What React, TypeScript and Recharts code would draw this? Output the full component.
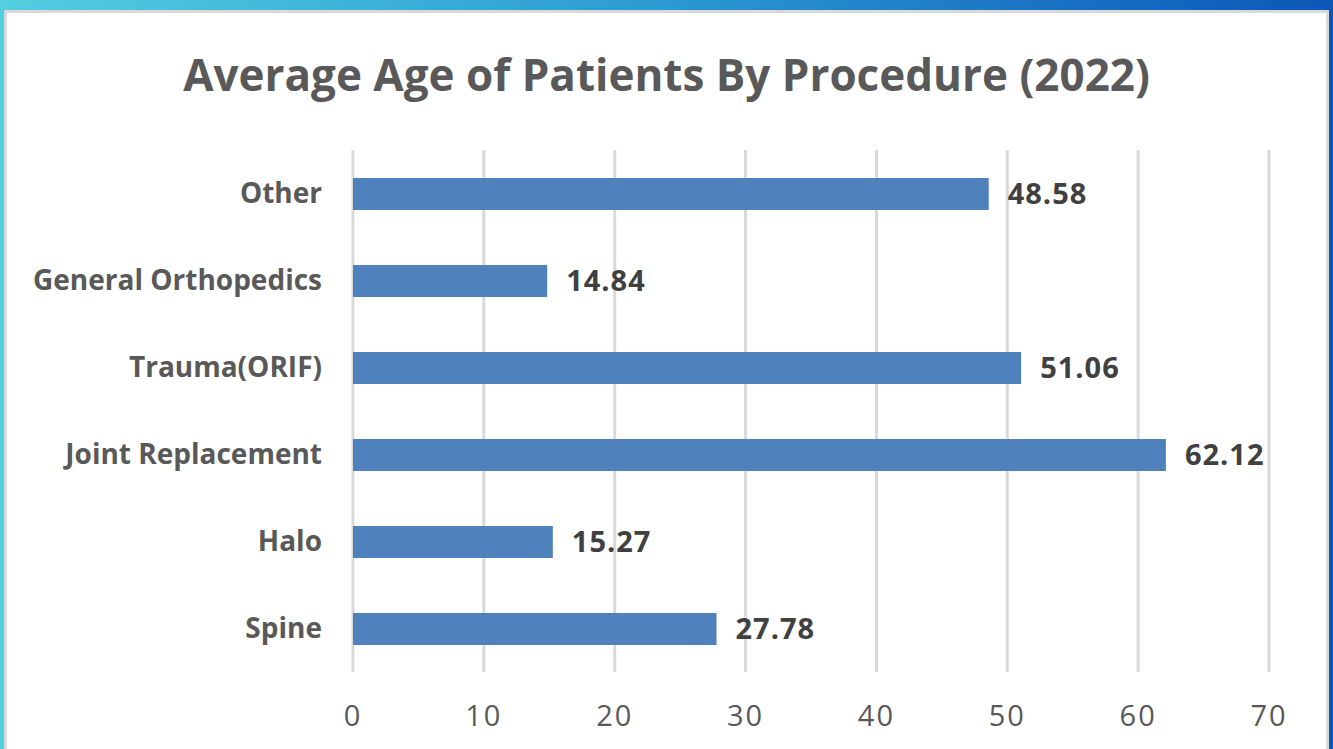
import React from 'react';
import { BarChart, Bar, XAxis, YAxis, CartesianGrid, LabelList } from 'recharts';

const procedures = ['Other', 'General Orthopedics', 'Trauma(ORIF)', 'Joint Replacement', 'Halo', 'Spine'];
const avgAges = [48.58, 14.84, 51.06, 62.12, 15.27, 27.78];
const ageTicks = [0, 10, 20, 30, 40, 50, 60, 70];

const data = procedures.map((name, i) => ({ name, age: avgAges[i] }));

const FONT = '"Open Sans", Lato, sans-serif';

export default function App() {
  return (
    <div
      style={{
        position: 'fixed',
        left: 0,
        top: 0,
        width: 1333,
        height: 749,
        overflow: 'hidden',
        background: 'linear-gradient(to right, #52cfe0 0%, #2f9fd4 45%, #0b57b8 100%)',
        fontFamily: FONT,
      }}
    >
      <div
        style={{
          position: 'absolute',
          left: 4,
          top: 10,
          width: 1319,
          height: 760,
          background: '#fff',
          border: '3px solid #d9d9d9',
        }}
      />
      <div
        style={{
          position: 'absolute',
          left: 0,
          top: 44,
          width: 1333,
          textAlign: 'center',
          fontSize: 44,
          fontWeight: 700,
          color: '#595959',
          lineHeight: '60px',
        }}
      >
        Average Age of Patients By Procedure (2022)
      </div>
      <div style={{ position: 'absolute', left: 0, top: 0 }}>
        <BarChart
          width={1333}
          height={749}
          data={data}
          layout="vertical"
          margin={{ top: 150, right: 64, bottom: 0, left: 0 }}
        >
          <CartesianGrid horizontal={false} stroke="#d9d9d9" strokeWidth={3} />
          <XAxis
            type="number"
            domain={[0, 70]}
            ticks={ageTicks}
            axisLine={false}
            tickLine={false}
            tickSize={0}
            tickMargin={33}
            height={77}
            tick={{ fontSize: 29, fill: '#595959', fontFamily: FONT, letterSpacing: 2 }}
          />
          <YAxis
            type="category"
            dataKey="name"
            width={353}
            axisLine={false}
            tickLine={false}
            tickSize={0}
            tickMargin={31}
            tick={{ fontSize: 28, fill: '#595959', fontWeight: 700, fontFamily: FONT }}
          />
          <Bar dataKey="age" fill="#4f81bd" barSize={32} isAnimationActive={false}>
            <LabelList
              dataKey="age"
              position="right"
              offset={19}
              formatter={(v: number) => v.toFixed(2)}
              style={{ fontSize: 29, fontWeight: 700, fill: '#404040', fontFamily: FONT, letterSpacing: 1 }}
            />
          </Bar>
        </BarChart>
      </div>
    </div>
  );
}
